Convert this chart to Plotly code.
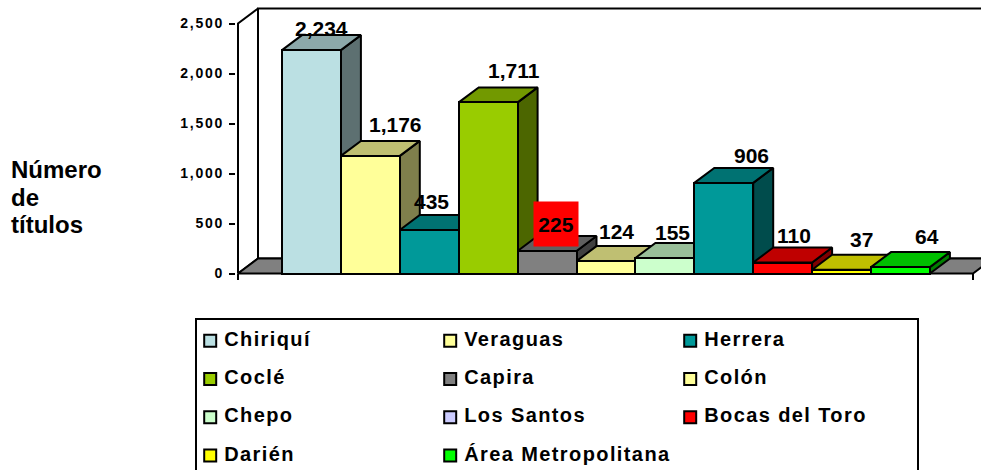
import plotly.graph_objects as go

# ---- data ----
categories = ["Chiriquí", "Veraguas", "Herrera", "Coclé", "Capira", "Colón",
              "Chepo", "Los Santos", "Bocas del Toro", "Darién", "Área Metropolitana"]
values = [2234, 1176, 435, 1711, 225, 124, 155, 906, 110, 37, 64]
value_labels = ["2,234", "1,176", "435", "1,711", "225", "124", "155", "906", "110", "37", "64"]
bar_colors = ["#BBE0E3", "#FFFF99", "#009999", "#99CC00", "#808080", "#FFFF99",
              "#CCFFCC", "#009999", "#FF0000", "#FFFF00", "#00FF00"]
legend_colors = ["#BBE0E3", "#FFFF99", "#009999", "#99CC00", "#808080", "#FFFF99",
                 "#CCFFCC", "#CCCCFF", "#FF0000", "#FFFF00", "#00FF00"]
y_ticks = [0, 500, 1000, 1500, 2000, 2500]
y_tick_labels = ["0", "500", "1,000", "1,500", "2,000", "2,500"]
title_lines = ["Número", "de", "títulos"]

# ---- label nudges (px) ----
label_dx = [10, 25, 2, 26, 9, 11, 8, 28, 11, 20, 27]
label_dy = [22, 31, 28, 32, 27, 30, 26, 27, 27, 30, 31]

# ---- geometry ----
W, H = 981, 470
FONT = "Liberation Sans"
BAR_PX = 58.9          # px per category
UNIT_PX = 0.1          # px per value unit
X0_PX, BASE_PX = 282.0, 273.5
def px2x(p): return (p - X0_PX) / BAR_PX - 0.5
def py2y(p): return (BASE_PX - p) / UNIT_PX
DX = 20 / BAR_PX       # depth in category units
DY = 15 / UNIT_PX      # depth in value units
AX_L, AX_R = px2x(238), px2x(973)
TOP = 2500
x_range = [px2x(236), px2x(981)]
y_range = [py2y(282), py2y(7)]
dom_x = [236 / W, 1]
dom_y = [1 - 282 / H, 1 - 7 / H]
BLACK = "#000000"
LW = 2

def shade(hex_color, k):
    r, g, b = (int(hex_color[i:i + 2], 16) for i in (1, 3, 5))
    return f"rgb({int(r * k)},{int(g * k)},{int(b * k)})"

fig = go.Figure()

def poly(xs, ys, fill):
    fig.add_trace(go.Scatter(x=xs + xs[:1], y=ys + ys[:1], mode="lines", fill="toself",
                             fillcolor=fill, line=dict(color=BLACK, width=LW),
                             hoverinfo="skip", showlegend=False, xaxis="x", yaxis="y"))

# walls and floor
poly([AX_L, AX_L, AX_L + DX, AX_L + DX], [0, TOP, TOP + DY, DY], "#FFFFFF")
poly([AX_L + DX, AX_L + DX, AX_R + DX, AX_R + DX], [DY, TOP + DY, TOP + DY, DY], "#FFFFFF")
poly([AX_L, AX_R, AX_R + DX, AX_L + DX], [0, 0, DY, DY], "#808080")

# axis ticks on the category axis
for xt in (AX_L, AX_R):
    fig.add_trace(go.Scatter(x=[xt, xt], y=[0, -65], mode="lines", line=dict(color=BLACK, width=LW),
                             hoverinfo="skip", showlegend=False, xaxis="x", yaxis="y"))

# depth faces, left to right
for i, (v, c) in enumerate(zip(values, bar_colors)):
    l, r = i - 0.5, i + 0.5
    poly([r, r + DX, r + DX, r], [0, DY, v + DY, v], shade(c, 0.5))
    poly([l, r, r + DX, l + DX], [v, v, v + DY, v + DY], shade(c, 0.75))

# front faces, real bars on an overlaying axis pair
fig.add_trace(go.Bar(x=list(range(len(values))), y=values, width=1,
                     marker=dict(color=bar_colors, line=dict(color=BLACK, width=LW)),
                     customdata=categories, hovertemplate="%{customdata}: %{y:,}<extra></extra>",
                     showlegend=False, xaxis="x2", yaxis="y2"))

# legend grid on its own axis pair, covering the legend box
cols = 3
leg_col = [i % cols for i in range(len(categories))]
leg_row = [i // cols for i in range(len(categories))]
COL_PX, ROW_PX = 240.0, 38.3
LEG_X0, LEG_Y0 = 210.2, 340.7
BOX_L, BOX_R, BOX_T = 196, 918, 319
text_off = 14.0 / COL_PX
fig.add_trace(go.Scatter(x=leg_col, y=leg_row, mode="markers", hoverinfo="skip", showlegend=False,
                         marker=dict(symbol="square", size=12, color=legend_colors,
                                     line=dict(color=BLACK, width=2)),
                         xaxis="x3", yaxis="y3"))
fig.add_trace(go.Scatter(x=[c + text_off for c in leg_col], y=leg_row, mode="text",
                         text=categories, textposition="middle right", hoverinfo="skip", showlegend=False,
                         textfont=dict(family=FONT, size=20, color=BLACK, weight="bold"),
                         cliponaxis=False, xaxis="x3", yaxis="y3"))

# data labels
annotations = []
for i, (v, t) in enumerate(zip(values, value_labels)):
    red = t == "225"
    annotations.append(dict(x=i, y=v, xref="x2", yref="y2", text=f"<b>{t}</b>", showarrow=False,
                            xshift=label_dx[i], yshift=label_dy[i],
                            font=dict(family=FONT, size=21, color=BLACK),
                            bgcolor="#FF0000" if red else None,
                            width=40 if red else None, height=40 if red else None,
                            borderpad=2 if red else 0))
for k, line in enumerate(title_lines):
    annotations.append(dict(x=9 / W, y=1 - (170 + 27 * k) / H, xref="paper", yref="paper",
                            xanchor="left", yanchor="middle", text=f"<b>{line}</b>", showarrow=False,
                            font=dict(family=FONT, size=24, color=BLACK)))

hidden = dict(visible=False, fixedrange=True)
fig.update_layout(
    width=W, height=H, margin=dict(l=0, r=0, t=0, b=0), autosize=False,
    paper_bgcolor="#FFFFFF", plot_bgcolor="rgba(0,0,0,0)", showlegend=False, bargap=0,
    xaxis=dict(domain=dom_x, range=x_range, showgrid=False, zeroline=False, showticklabels=False,
               ticks="", showline=False, fixedrange=True),
    yaxis=dict(domain=dom_y, range=y_range, showgrid=False, zeroline=False, showline=False,
               tickmode="array", tickvals=y_ticks, ticktext=[f"<b>{t}</b>" for t in y_tick_labels],
               ticks="outside", ticklen=6, tickwidth=2, tickcolor=BLACK,
               tickfont=dict(family=FONT, size=14, color=BLACK), ticklabelstandoff=2, fixedrange=True),
    xaxis2=dict(hidden, domain=dom_x, range=x_range, anchor="y2"),
    yaxis2=dict(hidden, domain=dom_y, range=y_range, anchor="x2", overlaying="y"),
    xaxis3=dict(hidden, domain=[BOX_L / W, BOX_R / W],
                range=[(BOX_L - LEG_X0) / COL_PX, (BOX_R - LEG_X0) / COL_PX], anchor="y3"),
    yaxis3=dict(hidden, domain=[0, 1 - BOX_T / H],
                range=[(H - LEG_Y0) / ROW_PX, (BOX_T - LEG_Y0) / ROW_PX], anchor="x3"),
    annotations=annotations,
    shapes=[dict(type="rect", xref="paper", yref="paper", x0=BOX_L / W, x1=BOX_R / W,
                 y0=-10 / H, y1=1 - BOX_T / H, line=dict(color=BLACK, width=2), fillcolor="rgba(0,0,0,0)")],
)

spacing_js = """
document.body.style.margin='0';
document.querySelectorAll('.ytick text').forEach(function(t){t.style.letterSpacing='1.8px';});
document.querySelectorAll('.textpoint text').forEach(function(t){t.style.letterSpacing='1.4px';});
"""
fig.write_html("out.html", post_script=spacing_js, config={"displayModeBar": False})
